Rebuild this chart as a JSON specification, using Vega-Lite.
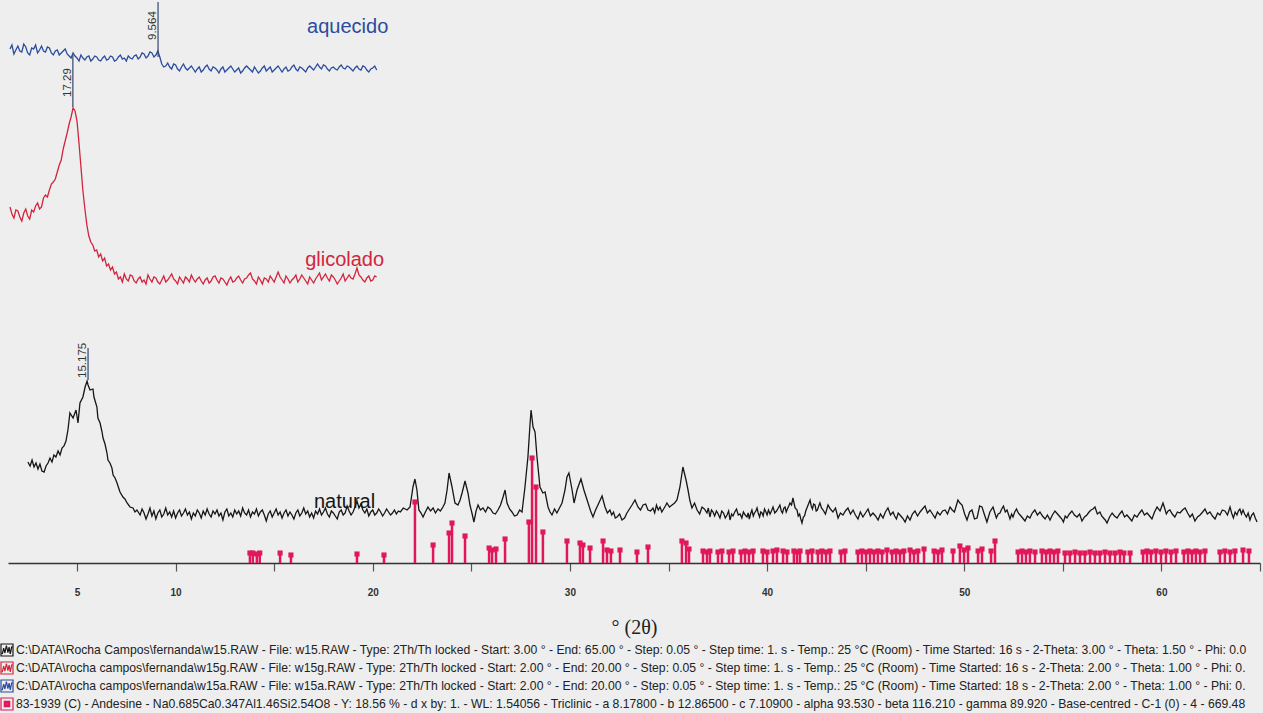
{
  "$schema": "https://vega.github.io/schema/vega-lite/v6.json",
  "width": 1252,
  "height": 563,
  "autosize": {"type": "none"},
  "padding": {"left": 8, "top": 0, "right": 3, "bottom": 150},
  "background": "#edeeed",
  "config": {"view": {"stroke": null}, "font": "Liberation Sans"},
  "datasets": {
    "legenda": [
      {"s": "w15", "rotulo": "C:\\DATA\\Rocha Campos\\fernanda\\w15.RAW - File: w15.RAW - Type: 2Th/Th locked - Start: 3.00 ° - End: 65.00 ° - Step: 0.05 ° - Step time: 1. s - Temp.: 25 °C (Room) - Time Started: 16 s - 2-Theta: 3.00 ° - Theta: 1.50 ° - Phi: 0.0"},
      {"s": "w15g", "rotulo": "C:\\DATA\\rocha campos\\fernanda\\w15g.RAW - File: w15g.RAW - Type: 2Th/Th locked - Start: 2.00 ° - End: 20.00 ° - Step: 0.05 ° - Step time: 1. s - Temp.: 25 °C (Room) - Time Started: 16 s - 2-Theta: 2.00 ° - Theta: 1.00 ° - Phi: 0."},
      {"s": "w15a", "rotulo": "C:\\DATA\\rocha campos\\fernanda\\w15a.RAW - File: w15a.RAW - Type: 2Th/Th locked - Start: 2.00 ° - End: 20.00 ° - Step: 0.05 ° - Step time: 1. s - Temp.: 25 °C (Room) - Time Started: 18 s - 2-Theta: 2.00 ° - Theta: 1.00 ° - Phi: 0."},
      {"s": "83-1939", "rotulo": "83-1939 (C) - Andesine - Na0.685Ca0.347Al1.46Si2.54O8 - Y: 18.56 % - d x by: 1. - WL: 1.54056 - Triclinic - a 8.17800 - b 12.86500 - c 7.10900 - alpha 93.530 - beta 116.210 - gamma 89.920 - Base-centred - C-1 (0) - 4 - 669.48"}
    ],
    "difratogramas": [
      {"s":"w15","t":2.51,"i":101},{"s":"w15","t":2.62,"i":97},{"s":"w15","t":2.72,"i":103},{"s":"w15","t":2.82,"i":96},{"s":"w15","t":2.92,"i":100},{"s":"w15","t":3.02,"i":94},{"s":"w15","t":3.12,"i":99},{"s":"w15","t":3.22,"i":92},{"s":"w15","t":3.33,"i":91},{"s":"w15","t":3.43,"i":97},{"s":"w15","t":3.53,"i":100},{"s":"w15","t":3.63,"i":105},{"s":"w15","t":3.73,"i":101},{"s":"w15","t":3.83,"i":108},{"s":"w15","t":3.93,"i":106},{"s":"w15","t":4.04,"i":112},{"s":"w15","t":4.14,"i":108},{"s":"w15","t":4.24,"i":115},{"s":"w15","t":4.34,"i":117},{"s":"w15","t":4.44,"i":122},{"s":"w15","t":4.54,"i":133},{"s":"w15","t":4.64,"i":150},{"s":"w15","t":4.80,"i":145},{"s":"w15","t":4.95,"i":153},{"s":"w15","t":5.05,"i":140},{"s":"w15","t":5.15,"i":160},{"s":"w15","t":5.30,"i":166},{"s":"w15","t":5.41,"i":176},{"s":"w15","t":5.51,"i":182},{"s":"w15","t":5.56,"i":178},{"s":"w15","t":5.66,"i":173},{"s":"w15","t":5.81,"i":174},{"s":"w15","t":5.86,"i":166},{"s":"w15","t":6.01,"i":156},{"s":"w15","t":6.06,"i":145},{"s":"w15","t":6.17,"i":140},{"s":"w15","t":6.27,"i":131},{"s":"w15","t":6.32,"i":125},{"s":"w15","t":6.42,"i":119},{"s":"w15","t":6.52,"i":110},{"s":"w15","t":6.57,"i":103},{"s":"w15","t":6.67,"i":100},{"s":"w15","t":6.77,"i":95},{"s":"w15","t":6.83,"i":88},{"s":"w15","t":6.93,"i":85},{"s":"w15","t":7.03,"i":80},{"s":"w15","t":7.18,"i":71},{"s":"w15","t":7.33,"i":66},{"s":"w15","t":7.43,"i":64},{"s":"w15","t":7.54,"i":60},{"s":"w15","t":7.69,"i":56},{"s":"w15","t":7.84,"i":55},{"s":"w15","t":7.94,"i":51},{"s":"w15","t":8.04,"i":53},
      {"s":"w15","t":8.2,"i":48},{"s":"w15","t":8.3,"i":54},{"s":"w15","t":8.4,"i":50},{"s":"w15","t":8.5,"i":44},{"s":"w15","t":8.6,"i":49},{"s":"w15","t":8.7,"i":55},{"s":"w15","t":8.8,"i":47},{"s":"w15","t":8.9,"i":52},{"s":"w15","t":9.0,"i":44},{"s":"w15","t":9.1,"i":50},{"s":"w15","t":9.2,"i":53},{"s":"w15","t":9.3,"i":46},{"s":"w15","t":9.4,"i":49},{"s":"w15","t":9.5,"i":55},{"s":"w15","t":9.6,"i":48},{"s":"w15","t":9.7,"i":51},{"s":"w15","t":9.8,"i":46},{"s":"w15","t":9.9,"i":52},{"s":"w15","t":10.0,"i":45},{"s":"w15","t":10.1,"i":50},{"s":"w15","t":10.2,"i":53},{"s":"w15","t":10.3,"i":47},{"s":"w15","t":10.4,"i":50},{"s":"w15","t":10.5,"i":54},{"s":"w15","t":10.6,"i":48},{"s":"w15","t":10.7,"i":51},{"s":"w15","t":10.8,"i":44},{"s":"w15","t":10.9,"i":50},{"s":"w15","t":11.0,"i":47},{"s":"w15","t":11.1,"i":53},{"s":"w15","t":11.2,"i":50},{"s":"w15","t":11.3,"i":45},{"s":"w15","t":11.4,"i":52},{"s":"w15","t":11.5,"i":48},{"s":"w15","t":11.6,"i":54},{"s":"w15","t":11.7,"i":49},{"s":"w15","t":11.8,"i":46},{"s":"w15","t":11.9,"i":52},{"s":"w15","t":12.0,"i":49},{"s":"w15","t":12.1,"i":53},{"s":"w15","t":12.2,"i":47},{"s":"w15","t":12.3,"i":50},{"s":"w15","t":12.4,"i":43},{"s":"w15","t":12.5,"i":51},{"s":"w15","t":12.6,"i":54},{"s":"w15","t":12.7,"i":47},{"s":"w15","t":12.8,"i":50},{"s":"w15","t":12.9,"i":46},{"s":"w15","t":13.0,"i":53},{"s":"w15","t":13.1,"i":49},{"s":"w15","t":13.2,"i":52},{"s":"w15","t":13.3,"i":47},{"s":"w15","t":13.4,"i":55},{"s":"w15","t":13.5,"i":50},{"s":"w15","t":13.6,"i":48},{"s":"w15","t":13.7,"i":53},{"s":"w15","t":13.8,"i":46},{"s":"w15","t":13.9,"i":51},{"s":"w15","t":14.0,"i":49},{"s":"w15","t":14.1,"i":54},{"s":"w15","t":14.2,"i":47},{"s":"w15","t":14.3,"i":51},{"s":"w15","t":14.4,"i":53},{"s":"w15","t":14.5,"i":48},{"s":"w15","t":14.6,"i":42},{"s":"w15","t":14.7,"i":49},{"s":"w15","t":14.8,"i":52},{"s":"w15","t":14.9,"i":46},{"s":"w15","t":15.0,"i":50},{"s":"w15","t":15.1,"i":54},{"s":"w15","t":15.2,"i":48},{"s":"w15","t":15.3,"i":51},{"s":"w15","t":15.4,"i":45},{"s":"w15","t":15.5,"i":50},{"s":"w15","t":15.6,"i":53},{"s":"w15","t":15.7,"i":47},{"s":"w15","t":15.8,"i":51},{"s":"w15","t":15.9,"i":48},{"s":"w15","t":16.0,"i":44},{"s":"w15","t":16.1,"i":50},{"s":"w15","t":16.2,"i":53},{"s":"w15","t":16.3,"i":47},{"s":"w15","t":16.4,"i":50},{"s":"w15","t":16.5,"i":55},{"s":"w15","t":16.6,"i":49},{"s":"w15","t":16.7,"i":52},{"s":"w15","t":16.8,"i":46},{"s":"w15","t":16.9,"i":50},{"s":"w15","t":17.0,"i":45},{"s":"w15","t":17.1,"i":52},{"s":"w15","t":17.2,"i":49},{"s":"w15","t":17.3,"i":54},{"s":"w15","t":17.4,"i":48},{"s":"w15","t":17.5,"i":51},{"s":"w15","t":17.6,"i":55},{"s":"w15","t":17.7,"i":49},{"s":"w15","t":17.8,"i":46},{"s":"w15","t":17.9,"i":52},{"s":"w15","t":18.0,"i":50},{"s":"w15","t":18.1,"i":47},{"s":"w15","t":18.2,"i":44},{"s":"w15","t":18.3,"i":51},{"s":"w15","t":18.4,"i":53},{"s":"w15","t":18.5,"i":48},{"s":"w15","t":18.6,"i":50},{"s":"w15","t":18.7,"i":57},{"s":"w15","t":18.8,"i":52},{"s":"w15","t":18.9,"i":48},{"s":"w15","t":19.0,"i":51},{"s":"w15","t":19.1,"i":56},{"s":"w15","t":19.2,"i":62},{"s":"w15","t":19.3,"i":55},{"s":"w15","t":19.4,"i":59},{"s":"w15","t":19.5,"i":53},{"s":"w15","t":19.6,"i":50},{"s":"w15","t":19.7,"i":54},{"s":"w15","t":19.8,"i":47},{"s":"w15","t":19.9,"i":51},{"s":"w15","t":20.0,"i":53},{"s":"w15","t":20.1,"i":48},{"s":"w15","t":20.2,"i":50},{"s":"w15","t":20.3,"i":54},{"s":"w15","t":20.4,"i":51},{"s":"w15","t":20.5,"i":47},{"s":"w15","t":20.6,"i":50},{"s":"w15","t":20.7,"i":54},{"s":"w15","t":20.8,"i":51},{"s":"w15","t":20.9,"i":48},{"s":"w15","t":21.0,"i":50},{"s":"w15","t":21.1,"i":53},{"s":"w15","t":21.2,"i":49},{"s":"w15","t":21.3,"i":52},{"s":"w15","t":21.4,"i":51},{"s":"w15","t":21.55,"i":55},
      {"s":"w15","t":21.74,"i":53},{"s":"w15","t":21.89,"i":56},{"s":"w15","t":22.04,"i":76},{"s":"w15","t":22.14,"i":84},{"s":"w15","t":22.24,"i":73},{"s":"w15","t":22.34,"i":53},{"s":"w15","t":22.45,"i":50},{"s":"w15","t":22.55,"i":46},{"s":"w15","t":22.67,"i":51},{"s":"w15","t":22.80,"i":56},{"s":"w15","t":22.93,"i":52},{"s":"w15","t":23.06,"i":55},{"s":"w15","t":23.18,"i":50},{"s":"w15","t":23.31,"i":54},{"s":"w15","t":23.43,"i":52},{"s":"w15","t":23.56,"i":56},{"s":"w15","t":23.66,"i":60},{"s":"w15","t":23.77,"i":73},{"s":"w15","t":23.87,"i":90},{"s":"w15","t":24.02,"i":76},{"s":"w15","t":24.17,"i":60},{"s":"w15","t":24.32,"i":58},{"s":"w15","t":24.43,"i":63},{"s":"w15","t":24.53,"i":70},{"s":"w15","t":24.68,"i":82},{"s":"w15","t":24.83,"i":70},{"s":"w15","t":24.93,"i":58},{"s":"w15","t":25.03,"i":50},{"s":"w15","t":25.13,"i":41},{"s":"w15","t":25.24,"i":52},{"s":"w15","t":25.34,"i":58},{"s":"w15","t":25.46,"i":53},{"s":"w15","t":25.59,"i":55},{"s":"w15","t":25.72,"i":51},{"s":"w15","t":25.84,"i":56},{"s":"w15","t":25.97,"i":54},{"s":"w15","t":26.10,"i":50},{"s":"w15","t":26.22,"i":49},{"s":"w15","t":26.35,"i":53},{"s":"w15","t":26.48,"i":58},{"s":"w15","t":26.61,"i":66},{"s":"w15","t":26.71,"i":73},{"s":"w15","t":26.81,"i":60},{"s":"w15","t":26.94,"i":54},{"s":"w15","t":27.06,"i":51},{"s":"w15","t":27.19,"i":47},{"s":"w15","t":27.32,"i":48},{"s":"w15","t":27.45,"i":53},{"s":"w15","t":27.57,"i":51},{"s":"w15","t":27.72,"i":76},{"s":"w15","t":27.87,"i":106},{"s":"w15","t":27.98,"i":140},{"s":"w15","t":28.03,"i":153},{"s":"w15","t":28.13,"i":136},{"s":"w15","t":28.23,"i":131},{"s":"w15","t":28.33,"i":106},{"s":"w15","t":28.48,"i":76},{"s":"w15","t":28.63,"i":70},{"s":"w15","t":28.74,"i":71},{"s":"w15","t":28.89,"i":56},{"s":"w15","t":28.99,"i":51},{"s":"w15","t":29.09,"i":48},{"s":"w15","t":29.22,"i":54},{"s":"w15","t":29.34,"i":50},{"s":"w15","t":29.47,"i":55},{"s":"w15","t":29.60,"i":60},{"s":"w15","t":29.75,"i":73},{"s":"w15","t":29.85,"i":86},{"s":"w15","t":29.95,"i":90},{"s":"w15","t":30.11,"i":73},{"s":"w15","t":30.21,"i":60},{"s":"w15","t":30.36,"i":73},{"s":"w15","t":30.56,"i":84},{"s":"w15","t":30.71,"i":73},{"s":"w15","t":30.92,"i":60},{"s":"w15","t":31.05,"i":52},{"s":"w15","t":31.17,"i":46},{"s":"w15","t":31.30,"i":53},{"s":"w15","t":31.42,"i":58},{"s":"w15","t":31.63,"i":67},{"s":"w15","t":31.78,"i":56},{"s":"w15","t":31.90,"i":50},{"s":"w15","t":32.03,"i":53},{"s":"w15","t":32.12,"i":48},{"s":"w15","t":32.21,"i":51},{"s":"w15","t":32.30,"i":45},{"s":"w15","t":32.39,"i":46},{"s":"w15","t":32.52,"i":49},{"s":"w15","t":32.64,"i":43},{"s":"w15","t":32.77,"i":45},{"s":"w15","t":32.89,"i":50},{"s":"w15","t":33.02,"i":54},{"s":"w15","t":33.15,"i":58},{"s":"w15","t":33.30,"i":63},{"s":"w15","t":33.45,"i":56},{"s":"w15","t":33.58,"i":53},{"s":"w15","t":33.71,"i":58},{"s":"w15","t":33.84,"i":59},{"s":"w15","t":33.96,"i":53},{"s":"w15","t":34.09,"i":52},{"s":"w15","t":34.21,"i":55},{"s":"w15","t":34.30,"i":50},{"s":"w15","t":34.39,"i":58},{"s":"w15","t":34.48,"i":53},{"s":"w15","t":34.57,"i":56},{"s":"w15","t":34.66,"i":51},{"s":"w15","t":34.75,"i":54},{"s":"w15","t":34.84,"i":57},{"s":"w15","t":34.92,"i":60},{"s":"w15","t":35.05,"i":56},{"s":"w15","t":35.18,"i":58},{"s":"w15","t":35.31,"i":60},{"s":"w15","t":35.43,"i":63},{"s":"w15","t":35.58,"i":76},{"s":"w15","t":35.73,"i":96},{"s":"w15","t":35.89,"i":83},{"s":"w15","t":35.99,"i":73},{"s":"w15","t":36.09,"i":62},{"s":"w15","t":36.19,"i":55},{"s":"w15","t":36.32,"i":60},{"s":"w15","t":36.45,"i":53},{"s":"w15","t":36.58,"i":49},{"s":"w15","t":36.70,"i":56},{"s":"w15","t":36.82,"i":54},{"s":"w15","t":36.95,"i":50},{"s":"w15","t":37.02,"i":55},{"s":"w15","t":37.10,"i":46},{"s":"w15","t":37.18,"i":53},{"s":"w15","t":37.26,"i":51},{"s":"w15","t":37.34,"i":47},{"s":"w15","t":37.43,"i":52},{"s":"w15","t":37.52,"i":49},{"s":"w15","t":37.61,"i":45},{"s":"w15","t":37.70,"i":52},{"s":"w15","t":37.79,"i":50},{"s":"w15","t":37.88,"i":45},{"s":"w15","t":37.97,"i":48},{"s":"w15","t":38.05,"i":52},{"s":"w15","t":38.12,"i":43},{"s":"w15","t":38.20,"i":49},{"s":"w15","t":38.27,"i":47},{"s":"w15","t":38.36,"i":51},{"s":"w15","t":38.45,"i":54},{"s":"w15","t":38.54,"i":48},{"s":"w15","t":38.63,"i":49},{"s":"w15","t":38.72,"i":45},{"s":"w15","t":38.80,"i":51},{"s":"w15","t":38.89,"i":48},{"s":"w15","t":38.98,"i":46},{"s":"w15","t":39.04,"i":50},{"s":"w15","t":39.10,"i":44},{"s":"w15","t":39.16,"i":49},{"s":"w15","t":39.23,"i":53},{"s":"w15","t":39.30,"i":47},{"s":"w15","t":39.36,"i":50},{"s":"w15","t":39.43,"i":52},{"s":"w15","t":39.49,"i":55},{"s":"w15","t":39.55,"i":50},{"s":"w15","t":39.62,"i":46},{"s":"w15","t":39.68,"i":51},{"s":"w15","t":39.74,"i":50},{"s":"w15","t":39.80,"i":47},{"s":"w15","t":39.87,"i":54},{"s":"w15","t":39.94,"i":51},{"s":"w15","t":40.00,"i":48},{"s":"w15","t":40.07,"i":53},{"s":"w15","t":40.15,"i":49},{"s":"w15","t":40.22,"i":52},{"s":"w15","t":40.30,"i":56},{"s":"w15","t":40.39,"i":50},{"s":"w15","t":40.48,"i":52},{"s":"w15","t":40.57,"i":55},{"s":"w15","t":40.65,"i":58},{"s":"w15","t":40.72,"i":52},{"s":"w15","t":40.78,"i":50},{"s":"w15","t":40.85,"i":55},{"s":"w15","t":40.91,"i":56},{"s":"w15","t":40.97,"i":51},{"s":"w15","t":41.03,"i":54},{"s":"w15","t":41.10,"i":57},{"s":"w15","t":41.16,"i":60},{"s":"w15","t":41.24,"i":58},{"s":"w15","t":41.31,"i":65},{"s":"w15","t":41.42,"i":55},{"s":"w15","t":41.52,"i":53},{"s":"w15","t":41.58,"i":47},{"s":"w15","t":41.65,"i":49},{"s":"w15","t":41.71,"i":44},{"s":"w15","t":41.77,"i":40},{"s":"w15","t":41.84,"i":46},{"s":"w15","t":41.90,"i":47},{"s":"w15","t":41.96,"i":52},{"s":"w15","t":42.02,"i":55},{"s":"w15","t":42.10,"i":59},{"s":"w15","t":42.18,"i":63},{"s":"w15","t":42.24,"i":57},{"s":"w15","t":42.30,"i":54},{"s":"w15","t":42.36,"i":59},{"s":"w15","t":42.43,"i":58},{"s":"w15","t":42.49,"i":52},{"s":"w15","t":42.55,"i":53},{"s":"w15","t":42.62,"i":57},{"s":"w15","t":42.68,"i":60},{"s":"w15","t":42.76,"i":55},
      {"s":"w15","t":42.84,"i":53},{"s":"w15","t":42.96,"i":49},{"s":"w15","t":43.09,"i":58},{"s":"w15","t":43.21,"i":54},{"s":"w15","t":43.34,"i":51},{"s":"w15","t":43.47,"i":55},{"s":"w15","t":43.60,"i":45},{"s":"w15","t":43.72,"i":50},{"s":"w15","t":43.85,"i":48},{"s":"w15","t":43.97,"i":52},{"s":"w15","t":44.10,"i":55},{"s":"w15","t":44.23,"i":49},{"s":"w15","t":44.36,"i":53},{"s":"w15","t":44.48,"i":48},{"s":"w15","t":44.61,"i":44},{"s":"w15","t":44.73,"i":51},{"s":"w15","t":44.86,"i":46},{"s":"w15","t":44.99,"i":50},{"s":"w15","t":45.12,"i":54},{"s":"w15","t":45.24,"i":47},{"s":"w15","t":45.37,"i":50},{"s":"w15","t":45.50,"i":47},{"s":"w15","t":45.63,"i":43},{"s":"w15","t":45.75,"i":49},{"s":"w15","t":45.88,"i":45},{"s":"w15","t":46.00,"i":51},{"s":"w15","t":46.13,"i":55},{"s":"w15","t":46.26,"i":48},{"s":"w15","t":46.39,"i":51},{"s":"w15","t":46.47,"i":47},{"s":"w15","t":46.56,"i":44},{"s":"w15","t":46.65,"i":50},{"s":"w15","t":46.74,"i":48},{"s":"w15","t":46.87,"i":45},{"s":"w15","t":47.00,"i":41},{"s":"w15","t":47.12,"i":47},{"s":"w15","t":47.25,"i":43},{"s":"w15","t":47.37,"i":49},{"s":"w15","t":47.50,"i":52},{"s":"w15","t":47.63,"i":47},{"s":"w15","t":47.76,"i":51},{"s":"w15","t":47.88,"i":54},{"s":"w15","t":48.01,"i":57},{"s":"w15","t":48.13,"i":50},{"s":"w15","t":48.26,"i":53},{"s":"w15","t":48.39,"i":49},{"s":"w15","t":48.52,"i":45},{"s":"w15","t":48.64,"i":51},{"s":"w15","t":48.77,"i":48},{"s":"w15","t":48.90,"i":52},{"s":"w15","t":49.03,"i":53},{"s":"w15","t":49.15,"i":49},{"s":"w15","t":49.28,"i":56},{"s":"w15","t":49.39,"i":53},{"s":"w15","t":49.50,"i":51},{"s":"w15","t":49.59,"i":57},{"s":"w15","t":49.68,"i":63},{"s":"w15","t":49.78,"i":60},{"s":"w15","t":49.89,"i":58},{"s":"w15","t":50.02,"i":49},{"s":"w15","t":50.14,"i":43},{"s":"w15","t":50.27,"i":51},{"s":"w15","t":50.39,"i":53},{"s":"w15","t":50.52,"i":44},{"s":"w15","t":50.65,"i":45},{"s":"w15","t":50.78,"i":57},{"s":"w15","t":50.90,"i":56},{"s":"w15","t":51.03,"i":48},{"s":"w15","t":51.15,"i":41},{"s":"w15","t":51.30,"i":51},{"s":"w15","t":51.46,"i":56},{"s":"w15","t":51.55,"i":50},{"s":"w15","t":51.63,"i":45},{"s":"w15","t":51.72,"i":49},{"s":"w15","t":51.81,"i":50},{"s":"w15","t":51.90,"i":54},{"s":"w15","t":51.99,"i":57},{"s":"w15","t":52.08,"i":51},{"s":"w15","t":52.17,"i":53},{"s":"w15","t":52.32,"i":44},{"s":"w15","t":52.40,"i":49},{"s":"w15","t":52.47,"i":46},{"s":"w15","t":52.56,"i":51},{"s":"w15","t":52.65,"i":54},{"s":"w15","t":52.74,"i":50},{"s":"w15","t":52.83,"i":48},{"s":"w15","t":52.96,"i":45},{"s":"w15","t":53.08,"i":42},{"s":"w15","t":53.20,"i":47},{"s":"w15","t":53.33,"i":45},{"s":"w15","t":53.45,"i":50},{"s":"w15","t":53.58,"i":53},{"s":"w15","t":53.71,"i":48},{"s":"w15","t":53.84,"i":51},{"s":"w15","t":53.97,"i":47},{"s":"w15","t":54.10,"i":44},{"s":"w15","t":54.22,"i":48},{"s":"w15","t":54.35,"i":43},{"s":"w15","t":54.47,"i":48},{"s":"w15","t":54.60,"i":52},{"s":"w15","t":54.73,"i":49},{"s":"w15","t":54.86,"i":46},{"s":"w15","t":54.95,"i":44},{"s":"w15","t":55.03,"i":41},{"s":"w15","t":55.12,"i":47},{"s":"w15","t":55.21,"i":45},{"s":"w15","t":55.33,"i":49},{"s":"w15","t":55.46,"i":52},{"s":"w15","t":55.59,"i":48},{"s":"w15","t":55.72,"i":46},{"s":"w15","t":55.85,"i":49},{"s":"w15","t":55.97,"i":42},{"s":"w15","t":56.10,"i":46},{"s":"w15","t":56.22,"i":48},{"s":"w15","t":56.33,"i":51},{"s":"w15","t":56.43,"i":53},{"s":"w15","t":56.53,"i":54},{"s":"w15","t":56.63,"i":56},{"s":"w15","t":56.75,"i":49},{"s":"w15","t":56.88,"i":51},{"s":"w15","t":56.97,"i":47},{"s":"w15","t":57.06,"i":45},{"s":"w15","t":57.15,"i":43},{"s":"w15","t":57.24,"i":40},{"s":"w15","t":57.37,"i":46},{"s":"w15","t":57.50,"i":50},{"s":"w15","t":57.62,"i":47},{"s":"w15","t":57.75,"i":45},{"s":"w15","t":57.88,"i":49},{"s":"w15","t":58.00,"i":52},{"s":"w15","t":58.13,"i":46},{"s":"w15","t":58.25,"i":48},{"s":"w15","t":58.38,"i":45},{"s":"w15","t":58.50,"i":42},{"s":"w15","t":58.63,"i":48},{"s":"w15","t":58.76,"i":46},{"s":"w15","t":58.89,"i":50},{"s":"w15","t":59.01,"i":53},{"s":"w15","t":59.14,"i":48},{"s":"w15","t":59.27,"i":50},{"s":"w15","t":59.40,"i":47},{"s":"w15","t":59.52,"i":44},{"s":"w15","t":59.65,"i":51},{"s":"w15","t":59.78,"i":56},{"s":"w15","t":59.93,"i":52},{"s":"w15","t":60.08,"i":60},{"s":"w15","t":60.16,"i":55},{"s":"w15","t":60.25,"i":49},{"s":"w15","t":60.34,"i":52},{"s":"w15","t":60.43,"i":53},{"s":"w15","t":60.55,"i":49},{"s":"w15","t":60.68,"i":46},{"s":"w15","t":60.81,"i":51},{"s":"w15","t":60.94,"i":50},{"s":"w15","t":61.07,"i":53},{"s":"w15","t":61.20,"i":55},{"s":"w15","t":61.33,"i":50},{"s":"w15","t":61.45,"i":46},{"s":"w15","t":61.57,"i":49},{"s":"w15","t":61.70,"i":42},{"s":"w15","t":61.83,"i":46},{"s":"w15","t":61.96,"i":48},{"s":"w15","t":62.09,"i":51},{"s":"w15","t":62.21,"i":54},{"s":"w15","t":62.33,"i":49},{"s":"w15","t":62.46,"i":51},{"s":"w15","t":62.59,"i":47},{"s":"w15","t":62.72,"i":44},{"s":"w15","t":62.85,"i":50},{"s":"w15","t":62.97,"i":48},{"s":"w15","t":63.09,"i":53},{"s":"w15","t":63.22,"i":52},{"s":"w15","t":63.35,"i":48},{"s":"w15","t":63.48,"i":56},{"s":"w15","t":63.56,"i":50},{"s":"w15","t":63.65,"i":45},{"s":"w15","t":63.74,"i":51},{"s":"w15","t":63.83,"i":48},{"s":"w15","t":63.90,"i":52},{"s":"w15","t":63.98,"i":54},{"s":"w15","t":64.06,"i":49},{"s":"w15","t":64.14,"i":53},{"s":"w15","t":64.22,"i":49},{"s":"w15","t":64.31,"i":46},{"s":"w15","t":64.40,"i":50},{"s":"w15","t":64.49,"i":43},{"s":"w15","t":64.58,"i":48},{"s":"w15","t":64.67,"i":50},{"s":"w15","t":64.76,"i":45},{"s":"w15","t":64.85,"i":41},
      {"s":"w15g","t":1.6,"i":356},{"s":"w15g","t":1.7,"i":349},{"s":"w15g","t":1.8,"i":345},{"s":"w15g","t":1.9,"i":353},{"s":"w15g","t":2.0,"i":352},{"s":"w15g","t":2.1,"i":346},{"s":"w15g","t":2.2,"i":342},{"s":"w15g","t":2.3,"i":350},{"s":"w15g","t":2.4,"i":354},{"s":"w15g","t":2.5,"i":347},{"s":"w15g","t":2.6,"i":344},{"s":"w15g","t":2.7,"i":353},{"s":"w15g","t":2.8,"i":351},{"s":"w15g","t":2.9,"i":357},{"s":"w15g","t":3.0,"i":360},{"s":"w15g","t":3.1,"i":354},{"s":"w15g","t":3.2,"i":356},{"s":"w15g","t":3.3,"i":365},{"s":"w15g","t":3.4,"i":368},{"s":"w15g","t":3.5,"i":366},{"s":"w15g","t":3.6,"i":373},{"s":"w15g","t":3.7,"i":379},{"s":"w15g","t":3.8,"i":381},{"s":"w15g","t":3.9,"i":384},{"s":"w15g","t":4.0,"i":391},{"s":"w15g","t":4.1,"i":398},{"s":"w15g","t":4.2,"i":403},{"s":"w15g","t":4.3,"i":414},{"s":"w15g","t":4.4,"i":422},{"s":"w15g","t":4.5,"i":430},{"s":"w15g","t":4.6,"i":439},{"s":"w15g","t":4.7,"i":446},{"s":"w15g","t":4.8,"i":455},{"s":"w15g","t":4.9,"i":452},{"s":"w15g","t":5.0,"i":442},{"s":"w15g","t":5.1,"i":420},{"s":"w15g","t":5.2,"i":396},{"s":"w15g","t":5.3,"i":372},{"s":"w15g","t":5.4,"i":354},{"s":"w15g","t":5.5,"i":338},{"s":"w15g","t":5.6,"i":327},{"s":"w15g","t":5.7,"i":321},{"s":"w15g","t":5.8,"i":318},{"s":"w15g","t":5.9,"i":312},{"s":"w15g","t":6.0,"i":313},{"s":"w15g","t":6.1,"i":306},{"s":"w15g","t":6.2,"i":309},{"s":"w15g","t":6.3,"i":302},{"s":"w15g","t":6.4,"i":305},{"s":"w15g","t":6.5,"i":297},{"s":"w15g","t":6.6,"i":299},{"s":"w15g","t":6.7,"i":293},{"s":"w15g","t":6.8,"i":296},{"s":"w15g","t":6.9,"i":289},{"s":"w15g","t":7.0,"i":291},{"s":"w15g","t":7.1,"i":284},{"s":"w15g","t":7.2,"i":286},{"s":"w15g","t":7.3,"i":281},{"s":"w15g","t":7.4,"i":289},{"s":"w15g","t":7.5,"i":284},{"s":"w15g","t":7.6,"i":282},{"s":"w15g","t":7.7,"i":288},{"s":"w15g","t":7.8,"i":287},{"s":"w15g","t":7.9,"i":282},{"s":"w15g","t":8.0,"i":280},{"s":"w15g","t":8.1,"i":284},{"s":"w15g","t":8.2,"i":286},{"s":"w15g","t":8.3,"i":281},{"s":"w15g","t":8.4,"i":283},{"s":"w15g","t":8.5,"i":279},{"s":"w15g","t":8.6,"i":288},{"s":"w15g","t":8.7,"i":284},{"s":"w15g","t":8.8,"i":281},{"s":"w15g","t":8.9,"i":286},{"s":"w15g","t":9.0,"i":285},{"s":"w15g","t":9.1,"i":281},{"s":"w15g","t":9.2,"i":279},{"s":"w15g","t":9.3,"i":283},{"s":"w15g","t":9.4,"i":287},{"s":"w15g","t":9.5,"i":281},{"s":"w15g","t":9.6,"i":283},{"s":"w15g","t":9.7,"i":286},{"s":"w15g","t":9.8,"i":289},{"s":"w15g","t":9.9,"i":284},{"s":"w15g","t":10.0,"i":282},{"s":"w15g","t":10.1,"i":279},{"s":"w15g","t":10.2,"i":286},{"s":"w15g","t":10.3,"i":283},{"s":"w15g","t":10.4,"i":280},{"s":"w15g","t":10.5,"i":286},{"s":"w15g","t":10.6,"i":284},{"s":"w15g","t":10.7,"i":281},{"s":"w15g","t":10.8,"i":288},{"s":"w15g","t":10.9,"i":284},{"s":"w15g","t":11.0,"i":281},{"s":"w15g","t":11.1,"i":284},{"s":"w15g","t":11.2,"i":286},{"s":"w15g","t":11.3,"i":282},{"s":"w15g","t":11.4,"i":279},{"s":"w15g","t":11.5,"i":283},{"s":"w15g","t":11.6,"i":285},{"s":"w15g","t":11.7,"i":280},{"s":"w15g","t":11.8,"i":282},{"s":"w15g","t":11.9,"i":286},{"s":"w15g","t":12.0,"i":287},{"s":"w15g","t":12.1,"i":283},{"s":"w15g","t":12.2,"i":280},{"s":"w15g","t":12.3,"i":285},{"s":"w15g","t":12.4,"i":284},{"s":"w15g","t":12.5,"i":281},{"s":"w15g","t":12.6,"i":278},{"s":"w15g","t":12.7,"i":283},{"s":"w15g","t":12.8,"i":286},{"s":"w15g","t":12.9,"i":281},{"s":"w15g","t":13.0,"i":282},{"s":"w15g","t":13.1,"i":285},{"s":"w15g","t":13.2,"i":287},{"s":"w15g","t":13.3,"i":283},{"s":"w15g","t":13.4,"i":280},{"s":"w15g","t":13.5,"i":284},{"s":"w15g","t":13.6,"i":285},{"s":"w15g","t":13.7,"i":288},{"s":"w15g","t":13.8,"i":290},{"s":"w15g","t":13.9,"i":284},{"s":"w15g","t":14.0,"i":282},{"s":"w15g","t":14.1,"i":279},{"s":"w15g","t":14.2,"i":286},{"s":"w15g","t":14.3,"i":283},{"s":"w15g","t":14.4,"i":279},{"s":"w15g","t":14.5,"i":285},{"s":"w15g","t":14.6,"i":284},{"s":"w15g","t":14.7,"i":281},{"s":"w15g","t":14.8,"i":287},{"s":"w15g","t":14.9,"i":284},{"s":"w15g","t":15.0,"i":281},{"s":"w15g","t":15.1,"i":286},{"s":"w15g","t":15.2,"i":291},{"s":"w15g","t":15.3,"i":286},{"s":"w15g","t":15.4,"i":283},{"s":"w15g","t":15.5,"i":280},{"s":"w15g","t":15.6,"i":287},{"s":"w15g","t":15.7,"i":284},{"s":"w15g","t":15.8,"i":280},{"s":"w15g","t":15.9,"i":283},{"s":"w15g","t":16.0,"i":285},{"s":"w15g","t":16.1,"i":288},{"s":"w15g","t":16.2,"i":281},{"s":"w15g","t":16.3,"i":284},{"s":"w15g","t":16.4,"i":288},{"s":"w15g","t":16.5,"i":285},{"s":"w15g","t":16.6,"i":282},{"s":"w15g","t":16.7,"i":279},{"s":"w15g","t":16.8,"i":286},{"s":"w15g","t":16.9,"i":283},{"s":"w15g","t":17.0,"i":280},{"s":"w15g","t":17.1,"i":284},{"s":"w15g","t":17.2,"i":287},{"s":"w15g","t":17.3,"i":290},{"s":"w15g","t":17.4,"i":283},{"s":"w15g","t":17.5,"i":286},{"s":"w15g","t":17.6,"i":289},{"s":"w15g","t":17.7,"i":285},{"s":"w15g","t":17.8,"i":282},{"s":"w15g","t":17.9,"i":288},{"s":"w15g","t":18.0,"i":286},{"s":"w15g","t":18.1,"i":283},{"s":"w15g","t":18.2,"i":279},{"s":"w15g","t":18.3,"i":282},{"s":"w15g","t":18.4,"i":285},{"s":"w15g","t":18.5,"i":289},{"s":"w15g","t":18.6,"i":282},{"s":"w15g","t":18.7,"i":285},{"s":"w15g","t":18.8,"i":288},{"s":"w15g","t":18.9,"i":285},{"s":"w15g","t":19.0,"i":284},{"s":"w15g","t":19.1,"i":289},{"s":"w15g","t":19.2,"i":295},{"s":"w15g","t":19.3,"i":288},{"s":"w15g","t":19.4,"i":286},{"s":"w15g","t":19.5,"i":283},{"s":"w15g","t":19.6,"i":281},{"s":"w15g","t":19.7,"i":285},{"s":"w15g","t":19.8,"i":287},{"s":"w15g","t":19.9,"i":282},{"s":"w15g","t":20.0,"i":283},{"s":"w15g","t":20.1,"i":287},{"s":"w15g","t":20.2,"i":286},
      {"s":"w15a","t":1.6,"i":514},{"s":"w15a","t":1.7,"i":518},{"s":"w15a","t":1.8,"i":509},{"s":"w15a","t":1.9,"i":513},{"s":"w15a","t":2.0,"i":517},{"s":"w15a","t":2.1,"i":512},{"s":"w15a","t":2.2,"i":511},{"s":"w15a","t":2.3,"i":519},{"s":"w15a","t":2.4,"i":516},{"s":"w15a","t":2.5,"i":510},{"s":"w15a","t":2.6,"i":508},{"s":"w15a","t":2.7,"i":515},{"s":"w15a","t":2.8,"i":514},{"s":"w15a","t":2.9,"i":518},{"s":"w15a","t":3.0,"i":510},{"s":"w15a","t":3.1,"i":513},{"s":"w15a","t":3.2,"i":517},{"s":"w15a","t":3.3,"i":512},{"s":"w15a","t":3.4,"i":511},{"s":"w15a","t":3.5,"i":516},{"s":"w15a","t":3.6,"i":515},{"s":"w15a","t":3.7,"i":510},{"s":"w15a","t":3.8,"i":508},{"s":"w15a","t":3.9,"i":512},{"s":"w15a","t":4.0,"i":513},{"s":"w15a","t":4.1,"i":508},{"s":"w15a","t":4.2,"i":510},{"s":"w15a","t":4.3,"i":512},{"s":"w15a","t":4.4,"i":514},{"s":"w15a","t":4.5,"i":509},{"s":"w15a","t":4.6,"i":507},{"s":"w15a","t":4.7,"i":505},{"s":"w15a","t":4.8,"i":510},{"s":"w15a","t":4.9,"i":507},{"s":"w15a","t":5.0,"i":505},{"s":"w15a","t":5.1,"i":502},{"s":"w15a","t":5.2,"i":508},{"s":"w15a","t":5.3,"i":505},{"s":"w15a","t":5.4,"i":503},{"s":"w15a","t":5.5,"i":506},{"s":"w15a","t":5.6,"i":507},{"s":"w15a","t":5.7,"i":502},{"s":"w15a","t":5.8,"i":504},{"s":"w15a","t":5.9,"i":507},{"s":"w15a","t":6.0,"i":506},{"s":"w15a","t":6.1,"i":503},{"s":"w15a","t":6.2,"i":502},{"s":"w15a","t":6.3,"i":505},{"s":"w15a","t":6.4,"i":507},{"s":"w15a","t":6.5,"i":503},{"s":"w15a","t":6.6,"i":504},{"s":"w15a","t":6.7,"i":507},{"s":"w15a","t":6.8,"i":506},{"s":"w15a","t":6.9,"i":502},{"s":"w15a","t":7.0,"i":503},{"s":"w15a","t":7.1,"i":506},{"s":"w15a","t":7.2,"i":508},{"s":"w15a","t":7.3,"i":504},{"s":"w15a","t":7.4,"i":505},{"s":"w15a","t":7.5,"i":502},{"s":"w15a","t":7.6,"i":507},{"s":"w15a","t":7.7,"i":505},{"s":"w15a","t":7.8,"i":504},{"s":"w15a","t":7.9,"i":507},{"s":"w15a","t":8.0,"i":508},{"s":"w15a","t":8.1,"i":504},{"s":"w15a","t":8.2,"i":506},{"s":"w15a","t":8.3,"i":510},{"s":"w15a","t":8.4,"i":509},{"s":"w15a","t":8.5,"i":505},{"s":"w15a","t":8.6,"i":507},{"s":"w15a","t":8.7,"i":511},{"s":"w15a","t":8.8,"i":510},{"s":"w15a","t":8.9,"i":506},{"s":"w15a","t":9.0,"i":508},{"s":"w15a","t":9.1,"i":512},{"s":"w15a","t":9.2,"i":506},{"s":"w15a","t":9.3,"i":499},{"s":"w15a","t":9.4,"i":496},{"s":"w15a","t":9.5,"i":497},{"s":"w15a","t":9.6,"i":500},{"s":"w15a","t":9.7,"i":496},{"s":"w15a","t":9.8,"i":494},{"s":"w15a","t":9.9,"i":499},{"s":"w15a","t":10.0,"i":498},{"s":"w15a","t":10.1,"i":494},{"s":"w15a","t":10.2,"i":492},{"s":"w15a","t":10.3,"i":496},{"s":"w15a","t":10.4,"i":499},{"s":"w15a","t":10.5,"i":495},{"s":"w15a","t":10.6,"i":493},{"s":"w15a","t":10.7,"i":495},{"s":"w15a","t":10.8,"i":497},{"s":"w15a","t":10.9,"i":494},{"s":"w15a","t":11.0,"i":491},{"s":"w15a","t":11.1,"i":494},{"s":"w15a","t":11.2,"i":496},{"s":"w15a","t":11.3,"i":491},{"s":"w15a","t":11.4,"i":493},{"s":"w15a","t":11.5,"i":496},{"s":"w15a","t":11.6,"i":498},{"s":"w15a","t":11.7,"i":494},{"s":"w15a","t":11.8,"i":492},{"s":"w15a","t":11.9,"i":496},{"s":"w15a","t":12.0,"i":495},{"s":"w15a","t":12.1,"i":493},{"s":"w15a","t":12.2,"i":490},{"s":"w15a","t":12.3,"i":494},{"s":"w15a","t":12.4,"i":496},{"s":"w15a","t":12.5,"i":491},{"s":"w15a","t":12.6,"i":493},{"s":"w15a","t":12.7,"i":495},{"s":"w15a","t":12.8,"i":497},{"s":"w15a","t":12.9,"i":494},{"s":"w15a","t":13.0,"i":491},{"s":"w15a","t":13.1,"i":493},{"s":"w15a","t":13.2,"i":495},{"s":"w15a","t":13.3,"i":490},{"s":"w15a","t":13.4,"i":492},{"s":"w15a","t":13.5,"i":495},{"s":"w15a","t":13.6,"i":497},{"s":"w15a","t":13.7,"i":495},{"s":"w15a","t":13.8,"i":493},{"s":"w15a","t":13.9,"i":491},{"s":"w15a","t":14.0,"i":496},{"s":"w15a","t":14.1,"i":493},{"s":"w15a","t":14.2,"i":490},{"s":"w15a","t":14.3,"i":492},{"s":"w15a","t":14.4,"i":495},{"s":"w15a","t":14.5,"i":497},{"s":"w15a","t":14.6,"i":492},{"s":"w15a","t":14.7,"i":494},{"s":"w15a","t":14.8,"i":496},{"s":"w15a","t":14.9,"i":491},{"s":"w15a","t":15.0,"i":493},{"s":"w15a","t":15.1,"i":495},{"s":"w15a","t":15.2,"i":497},{"s":"w15a","t":15.3,"i":494},{"s":"w15a","t":15.4,"i":491},{"s":"w15a","t":15.5,"i":494},{"s":"w15a","t":15.6,"i":496},{"s":"w15a","t":15.7,"i":492},{"s":"w15a","t":15.8,"i":493},{"s":"w15a","t":15.9,"i":496},{"s":"w15a","t":16.0,"i":498},{"s":"w15a","t":16.1,"i":494},{"s":"w15a","t":16.2,"i":492},{"s":"w15a","t":16.3,"i":496},{"s":"w15a","t":16.4,"i":495},{"s":"w15a","t":16.5,"i":493},{"s":"w15a","t":16.6,"i":491},{"s":"w15a","t":16.7,"i":495},{"s":"w15a","t":16.8,"i":497},{"s":"w15a","t":16.9,"i":495},{"s":"w15a","t":17.0,"i":493},{"s":"w15a","t":17.1,"i":496},{"s":"w15a","t":17.2,"i":499},{"s":"w15a","t":17.3,"i":496},{"s":"w15a","t":17.4,"i":494},{"s":"w15a","t":17.5,"i":498},{"s":"w15a","t":17.6,"i":497},{"s":"w15a","t":17.7,"i":494},{"s":"w15a","t":17.8,"i":492},{"s":"w15a","t":17.9,"i":495},{"s":"w15a","t":18.0,"i":496},{"s":"w15a","t":18.1,"i":494},{"s":"w15a","t":18.2,"i":493},{"s":"w15a","t":18.3,"i":496},{"s":"w15a","t":18.4,"i":498},{"s":"w15a","t":18.5,"i":495},{"s":"w15a","t":18.6,"i":494},{"s":"w15a","t":18.7,"i":497},{"s":"w15a","t":18.8,"i":496},{"s":"w15a","t":18.9,"i":494},{"s":"w15a","t":19.0,"i":492},{"s":"w15a","t":19.1,"i":495},{"s":"w15a","t":19.2,"i":497},{"s":"w15a","t":19.3,"i":494},{"s":"w15a","t":19.4,"i":493},{"s":"w15a","t":19.5,"i":497},{"s":"w15a","t":19.6,"i":496},{"s":"w15a","t":19.7,"i":493},{"s":"w15a","t":19.8,"i":491},{"s":"w15a","t":19.9,"i":494},{"s":"w15a","t":20.0,"i":495},{"s":"w15a","t":20.1,"i":497},{"s":"w15a","t":20.2,"i":493}
    ],
    "ficha": [
      {"t":13.77,"i":10},{"t":13.92,"i":10},{"t":14.12,"i":9},{"t":14.27,"i":10},{"t":15.30,"i":10},{"t":15.85,"i":8},{"t":19.20,"i":9},{"t":20.57,"i":8},{"t":22.14,"i":61},{"t":23.06,"i":18},{"t":23.87,"i":30},{"t":24.02,"i":40},{"t":24.68,"i":27},{"t":25.90,"i":15},{"t":26.05,"i":13},{"t":26.25,"i":14},{"t":26.71,"i":24},{"t":27.92,"i":41},{"t":28.08,"i":105},{"t":28.28,"i":76},{"t":28.63,"i":31},{"t":29.85,"i":22},{"t":30.51,"i":20},{"t":30.66,"i":18},{"t":31.02,"i":15},{"t":31.68,"i":22},{"t":31.88,"i":13},{"t":32.08,"i":12},{"t":32.54,"i":13},{"t":33.40,"i":11},{"t":33.96,"i":16},{"t":35.68,"i":22},{"t":35.89,"i":20},{"t":36.04,"i":14},
      {"t":36.75,"i":12},{"t":36.95,"i":11},{"t":37.10,"i":12},{"t":37.51,"i":11},{"t":37.71,"i":12},{"t":38.07,"i":11},{"t":38.27,"i":12},{"t":38.68,"i":11},{"t":38.88,"i":12},{"t":39.08,"i":11},{"t":39.29,"i":12},{"t":39.79,"i":12},{"t":40.00,"i":11},{"t":40.30,"i":12},{"t":40.50,"i":13},{"t":40.81,"i":12},{"t":41.01,"i":11},{"t":41.36,"i":12},{"t":41.52,"i":11},{"t":41.67,"i":12},{"t":42.07,"i":11},{"t":42.28,"i":12},{"t":42.58,"i":11},{"t":42.78,"i":12},{"t":42.99,"i":11},{"t":43.19,"i":12},{"t":43.75,"i":11},{"t":43.95,"i":12},{"t":44.61,"i":11},{"t":44.81,"i":12},{"t":45.02,"i":11},{"t":45.22,"i":12},{"t":45.42,"i":11},{"t":45.62,"i":12},{"t":45.83,"i":11},{"t":46.08,"i":13},{"t":46.34,"i":11},{"t":46.54,"i":12},{"t":46.74,"i":11},{"t":46.94,"i":12},{"t":47.25,"i":13},{"t":47.45,"i":11},{"t":47.65,"i":12},{"t":47.96,"i":14},{"t":48.47,"i":12},{"t":48.67,"i":11},{"t":48.87,"i":13},{"t":49.43,"i":12},{"t":49.78,"i":17},{"t":49.99,"i":13},{"t":50.19,"i":15},{"t":50.70,"i":12},{"t":50.90,"i":14},{"t":51.36,"i":12},{"t":51.56,"i":22},{"t":52.73,"i":11},{"t":52.93,"i":12},{"t":53.13,"i":11},{"t":53.33,"i":12},{"t":53.59,"i":11},{"t":53.94,"i":12},{"t":54.15,"i":11},{"t":54.35,"i":12},{"t":54.55,"i":11},{"t":54.75,"i":12},{"t":55.11,"i":10},{"t":55.36,"i":10},{"t":55.62,"i":11},{"t":55.87,"i":10},{"t":56.12,"i":10},{"t":56.38,"i":11},{"t":56.63,"i":10},{"t":56.88,"i":10},{"t":57.14,"i":11},{"t":57.39,"i":10},{"t":57.65,"i":10},{"t":57.90,"i":11},{"t":58.10,"i":10},{"t":58.41,"i":10},{"t":59.07,"i":11},{"t":59.27,"i":12},{"t":59.47,"i":11},{"t":59.72,"i":12},{"t":59.98,"i":11},{"t":60.23,"i":12},{"t":60.49,"i":11},{"t":60.74,"i":12},{"t":61.14,"i":11},{"t":61.35,"i":12},{"t":61.55,"i":11},{"t":61.75,"i":12},{"t":61.96,"i":11},{"t":62.21,"i":12},{"t":62.97,"i":11},{"t":63.22,"i":12},{"t":63.48,"i":11},{"t":63.73,"i":12},{"t":64.14,"i":13},{"t":64.44,"i":12}
    ],
    "nomes": [
      {"s": "w15a", "texto": "aquecido", "t": 16.67, "i": 530},
      {"s": "w15g", "texto": "glicolado", "t": 16.57, "i": 297},
      {"s": "w15", "texto": "natural", "t": 17.02, "i": 55}
    ],
    "picos": [
      {"d": "9.564", "t": 9.11, "i": 506, "topo": 561, "base_texto": 523},
      {"d": "17.29", "t": 4.79, "i": 456, "topo": 508, "base_texto": 466},
      {"d": "15.175", "t": 5.56, "i": 183, "topo": 215, "base_texto": 185}
    ]
  },
  "encoding": {
    "x": {
      "field": "t",
      "type": "quantitative",
      "scale": {"domain": [1.5, 65], "nice": false, "zero": false},
      "axis": {
        "values": [5, 10, 15, 20, 25, 30, 35, 40, 45, 50, 55, 60, 65],
        "labelExpr": "datum.value === 5 || datum.value % 10 === 0 ? datum.label : ''",
        "title": "° (2θ)",
        "titleFont": "Liberation Serif",
        "titleFontSize": 20,
        "titleFontWeight": "normal",
        "titleColor": "#222222",
        "titlePadding": 20,
        "labelFont": "Liberation Sans",
        "labelFontSize": 10,
        "labelFontWeight": "bold",
        "labelColor": "#333333",
        "labelPadding": 16,
        "labelOverlap": false,
        "labelFlush": false,
        "tickSize": 8,
        "tickColor": "#555555",
        "tickWidth": 1.2,
        "domainColor": "#333333",
        "domainWidth": 1.5,
        "grid": false
      }
    }
  },
  "layer": [
    {
      "data": {"name": "ficha"},
      "mark": {"type": "rule", "strokeWidth": 2.5, "color": "#e0185a"},
      "encoding": {
        "y": {"field": "i", "type": "quantitative", "scale": {"domain": [0, 563], "nice": false}, "axis": null},
        "y2": {"datum": 0}
      }
    },
    {
      "data": {"name": "ficha"},
      "mark": {"type": "point", "shape": "square", "filled": true, "size": 26, "opacity": 1, "color": "#e0185a"},
      "encoding": {
        "y": {"field": "i", "type": "quantitative"}
      }
    },
    {
      "data": {"name": "difratogramas"},
      "transform": [{"lookup": "s", "from": {"data": {"name": "legenda"}, "key": "s", "fields": ["rotulo"]}}],
      "mark": {"type": "line", "strokeWidth": 1.3},
      "encoding": {
        "y": {"field": "i", "type": "quantitative"},
        "color": {
          "field": "rotulo",
          "type": "nominal",
          "scale": {
            "domain": [
              "C:\\DATA\\Rocha Campos\\fernanda\\w15.RAW - File: w15.RAW - Type: 2Th/Th locked - Start: 3.00 ° - End: 65.00 ° - Step: 0.05 ° - Step time: 1. s - Temp.: 25 °C (Room) - Time Started: 16 s - 2-Theta: 3.00 ° - Theta: 1.50 ° - Phi: 0.0",
              "C:\\DATA\\rocha campos\\fernanda\\w15g.RAW - File: w15g.RAW - Type: 2Th/Th locked - Start: 2.00 ° - End: 20.00 ° - Step: 0.05 ° - Step time: 1. s - Temp.: 25 °C (Room) - Time Started: 16 s - 2-Theta: 2.00 ° - Theta: 1.00 ° - Phi: 0.",
              "C:\\DATA\\rocha campos\\fernanda\\w15a.RAW - File: w15a.RAW - Type: 2Th/Th locked - Start: 2.00 ° - End: 20.00 ° - Step: 0.05 ° - Step time: 1. s - Temp.: 25 °C (Room) - Time Started: 18 s - 2-Theta: 2.00 ° - Theta: 1.00 ° - Phi: 0.",
              "83-1939 (C) - Andesine - Na0.685Ca0.347Al1.46Si2.54O8 - Y: 18.56 % - d x by: 1. - WL: 1.54056 - Triclinic - a 8.17800 - b 12.86500 - c 7.10900 - alpha 93.530 - beta 116.210 - gamma 89.920 - Base-centred - C-1 (0) - 4 - 669.48"
            ],
            "range": ["#161616", "#d3243f", "#2d4b9e", "#e0185a"]
          },
          "legend": {
            "orient": "none",
            "legendX": -8,
            "legendY": 643,
            "title": null,
            "direction": "vertical",
            "padding": 0,
            "labelLimit": 1300,
            "labelFont": "Liberation Sans",
            "labelFontSize": 12.2,
            "labelColor": "#222222",
            "labelOffset": 2,
            "rowPadding": 0,
            "symbolSize": 144,
            "symbolStrokeWidth": 1.2,
            "symbolFillColor": "transparent",
            "symbolType": "M-1,-1H1V1H-1Z",
            "encode": {
              "symbols": {
                "update": {
                  "shape": {"signal": "indexof(datum.value, '83-1939') === 0 ? 'M-1,-1H1V1H-1Z M-0.45,-0.45H0.45V0.45H-0.45Z M-0.3,-0.3H0.3V0.3H-0.3Z M-0.15,-0.15H0.15V0.15H-0.15Z' : 'M-1,-1H1V1H-1Z M-0.8,0.7L-0.55,-0.3L-0.35,0.5L-0.1,-0.75L0.15,0.45L0.35,-0.5L0.55,0.65L0.8,-0.6'"},
                  "stroke": {"scale": "color", "field": "value"},
                  "fill": {"value": "transparent"},
                  "strokeWidth": {"value": 1.2},
                  "size": {"value": 144},
                  "opacity": {"value": 1}
                }
              }
            }
          }
        }
      }
    },
    {
      "data": {"name": "nomes"},
      "mark": {"type": "text", "align": "left", "baseline": "alphabetic", "fontSize": 20, "font": "Liberation Sans"},
      "encoding": {
        "y": {"field": "i", "type": "quantitative"},
        "text": {"field": "texto"},
        "fill": {
          "field": "s",
          "type": "nominal",
          "scale": {"domain": ["w15", "w15g", "w15a"], "range": ["#161616", "#d3243f", "#2d4b9e"]},
          "legend": null
        }
      }
    },
    {
      "data": {"name": "picos"},
      "mark": {"type": "rule", "strokeWidth": 1.2, "color": "#34466e"},
      "encoding": {
        "y": {"field": "i", "type": "quantitative"},
        "y2": {"field": "topo"}
      }
    },
    {
      "data": {"name": "picos"},
      "mark": {"type": "text", "angle": 270, "align": "left", "baseline": "bottom", "fontSize": 11.5, "font": "Liberation Sans", "color": "#333333"},
      "encoding": {
        "y": {"field": "base_texto", "type": "quantitative"},
        "text": {"field": "d"}
      }
    }
  ]
}
